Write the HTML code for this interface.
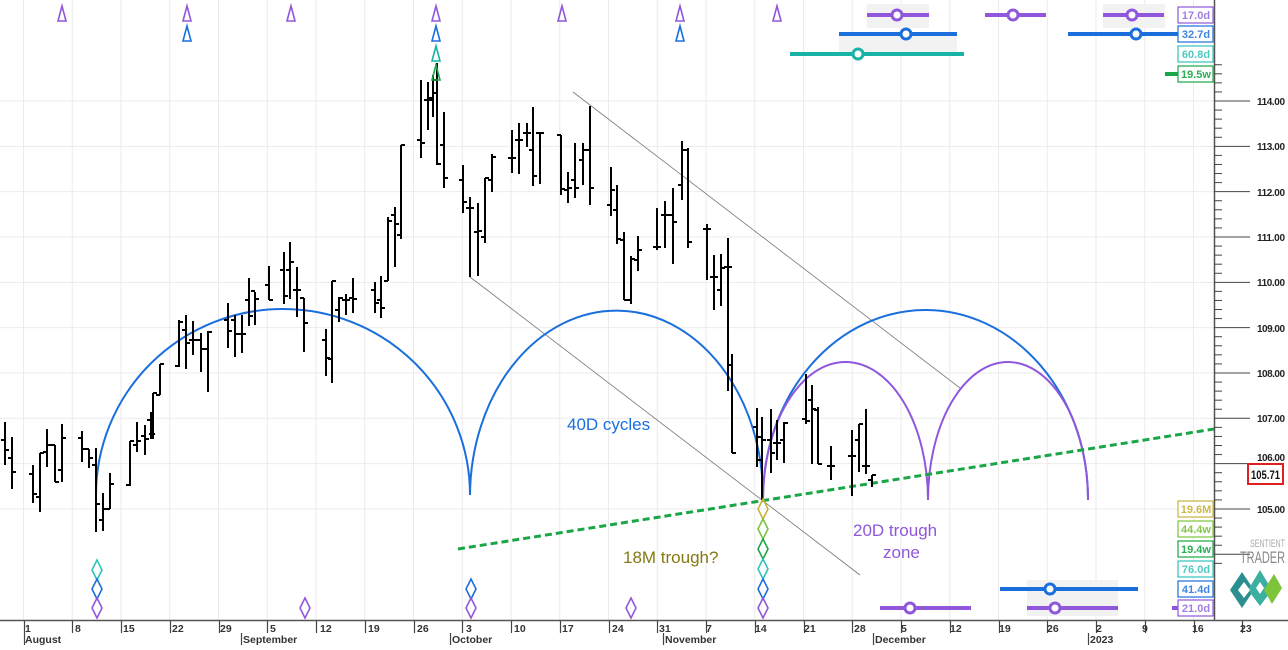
<!DOCTYPE html>
<html><head><meta charset="utf-8"><style>
html,body{margin:0;padding:0;background:#fff;}
svg{display:block;font-family:"Liberation Sans",Arial,sans-serif;}
</style></head><body>
<svg id="c" width="1288" height="650" viewBox="0 0 1288 650" xmlns="http://www.w3.org/2000/svg">
<rect width="1288" height="650" fill="#fff"/>
<g id="grid" stroke="#ebebeb" stroke-width="1"></g>
<rect x="867" y="4" width="62" height="24" fill="#f2f2f2"/>
<rect x="1103" y="4" width="62" height="24" fill="#f2f2f2"/>
<rect x="839" y="34" width="118" height="20" fill="#f2f2f2"/>
<rect x="1027" y="580" width="91" height="36" fill="#f2f2f2"/>
<line x1="573" y1="92" x2="960" y2="388" stroke="#777" stroke-width="0.8"/>
<line x1="470" y1="277" x2="860" y2="575" stroke="#777" stroke-width="0.8"/>
<g fill="none" stroke="#1a6fdc" stroke-width="2">
<path d="M96,495 A187,186 0 0 1 470,495"/>
<path d="M470,495 A146.5,186 0 0 1 763,498"/>
<path d="M763,498 A162.5,189 0 0 1 1088,500"/>
</g>
<g fill="none" stroke="#9057dc" stroke-width="2">
<path d="M763,500 A82.5,138 0 0 1 928,500"/>
<path d="M928,500 A80,138 0 0 1 1088,500"/>
</g>
<line x1="458" y1="549" x2="1214" y2="429" stroke="#19a647" stroke-width="3" stroke-dasharray="7,4"/>
<g id="bars" stroke="#000" stroke-width="2"></g>
<text x="567" y="430" font-size="17" fill="#1a6fdc">40D cycles</text>
<text x="623" y="563" font-size="17" fill="#857a12">18M trough?</text>
<text x="853" y="536" font-size="17" fill="#9057dc">20D trough</text>
<text x="883" y="558" font-size="17" fill="#9057dc">zone</text>
<g fill="none" stroke-width="1.6">
<g stroke="#9057dc">
<path d="M62,6 L58,21 L66,21Z"/><path d="M187,6 L183,21 L191,21Z"/><path d="M291,6 L287,21 L295,21Z"/><path d="M436,6 L432,21 L440,21Z"/><path d="M562,6 L558,21 L566,21Z"/><path d="M680,6 L676,21 L684,21Z"/><path d="M777,6 L773,21 L781,21Z"/>
</g>
<g stroke="#1a6fdc"><path d="M187,26 L183,41 L191,41Z"/><path d="M436,26 L432,41 L440,41Z"/><path d="M680,26 L676,41 L684,41Z"/></g>
<path stroke="#19b3a6" d="M436,46 L432,61 L440,61Z"/>
<path stroke="#19a647" d="M436,65 L432,80 L440,80Z"/>
</g>
<g fill="none" stroke-width="1.6" id="dia"></g>
<g stroke-width="4" stroke-linecap="butt">
<line x1="867" y1="15" x2="929" y2="15" stroke="#9057dc"/>
<line x1="985" y1="15" x2="1046" y2="15" stroke="#9057dc"/>
<line x1="1103" y1="15" x2="1164" y2="15" stroke="#9057dc"/>
<line x1="839" y1="34" x2="957" y2="34" stroke="#1a6fdc"/>
<line x1="1068" y1="34" x2="1180" y2="34" stroke="#1a6fdc"/>
<line x1="790" y1="54" x2="964" y2="54" stroke="#19b3a6"/>
<line x1="1165" y1="74" x2="1178" y2="74" stroke="#19a647"/>
<line x1="1000" y1="589" x2="1138" y2="589" stroke="#1a6fdc"/>
<line x1="880" y1="608" x2="971" y2="608" stroke="#9057dc"/>
<line x1="1027" y1="608" x2="1118" y2="608" stroke="#9057dc"/>
<line x1="1172" y1="608" x2="1180" y2="608" stroke="#9057dc"/>
</g>
<g fill="#fff" stroke-width="3">
<circle cx="897" cy="15" r="5" stroke="#9057dc"/><circle cx="1013" cy="15" r="5" stroke="#9057dc"/><circle cx="1132" cy="15" r="5" stroke="#9057dc"/>
<circle cx="906" cy="34" r="5" stroke="#1a6fdc"/><circle cx="1136" cy="34" r="5" stroke="#1a6fdc"/>
<circle cx="858" cy="54" r="5" stroke="#19b3a6"/>
<circle cx="1050" cy="589" r="5" stroke="#1a6fdc"/>
<circle cx="910" cy="608" r="5" stroke="#9057dc"/><circle cx="1055" cy="608" r="5" stroke="#9057dc"/>
</g>
<g font-size="11" font-weight="bold" fill="#fff">
<g stroke-width="1.2">
<rect x="1178" y="7" width="35" height="16" stroke="#9057dc"/>
<rect x="1178" y="26" width="35" height="16" stroke="#1a6fdc"/>
<rect x="1178" y="46" width="35" height="16" stroke="#2fc3b8"/>
<rect x="1178" y="66" width="35" height="16" stroke="#19a647"/>
<rect x="1178" y="501" width="35" height="16" stroke="#c9b23a"/>
<rect x="1178" y="521" width="35" height="16" stroke="#7cc43a"/>
<rect x="1178" y="541" width="35" height="16" stroke="#19a647"/>
<rect x="1178" y="561" width="35" height="16" stroke="#2fc3b8"/>
<rect x="1178" y="581" width="35" height="16" stroke="#1a6fdc"/>
<rect x="1178" y="600" width="35" height="16" stroke="#9057dc"/>
</g>
<g text-anchor="middle">
<text x="1196" y="19" fill="#a07fe0">17.0d</text>
<text x="1196" y="38" fill="#3f86e0">32.7d</text>
<text x="1196" y="58" fill="#4fcac0">60.8d</text>
<text x="1196" y="78" fill="#2cae55">19.5w</text>
<text x="1196" y="513" fill="#cdb84a">19.6M</text>
<text x="1196" y="533" fill="#86c64a">44.4w</text>
<text x="1196" y="553" fill="#2cae55">19.4w</text>
<text x="1196" y="573" fill="#4fcac0">76.0d</text>
<text x="1196" y="593" fill="#3f86e0">41.4d</text>
<text x="1196" y="612" fill="#a07fe0">21.0d</text>
</g>
</g>
<line x1="1214.5" y1="0" x2="1214.5" y2="620" stroke="#555" stroke-width="1.5"/>
<line x1="0" y1="620.5" x2="1288" y2="620.5" stroke="#555" stroke-width="1.5"/>
<g id="yax" stroke="#444" stroke-width="1"></g>
<g id="xax" stroke="#444" stroke-width="1.2"></g>
<rect x="1248" y="464" width="35" height="20" fill="#fff" stroke="#e02020" stroke-width="2"/>
<text x="1251" y="479" font-size="12" font-weight="bold" fill="#111" textLength="29" lengthAdjust="spacingAndGlyphs">105.71</text>
<text x="1250" y="547" font-size="11" fill="#aaa" textLength="35" lengthAdjust="spacingAndGlyphs">SENTIENT</text>
<text x="1240" y="563" font-size="17" fill="#888" textLength="45" lengthAdjust="spacingAndGlyphs">TRADER</text>
<g>
<polygon points="1230,590 1242,572 1254,590 1242,608" fill="#2b8f8f"/>
<polygon points="1248,590 1260,570 1272,590 1260,606" fill="#3bb0a0"/>
<polygon points="1264,590 1274,574 1282,588 1272,604" fill="#7cc43a"/>
<polygon points="1238,590 1244,582 1250,590 1244,598" fill="#fff"/>
<polygon points="1256,588 1260,582 1264,588 1260,594" fill="#fff"/>
</g>
<g font-size="10" font-weight="bold" fill="#222" lengthAdjust="spacingAndGlyphs">
<text x="1257" y="105" textLength="28">114.00</text><text x="1257" y="150" textLength="28">113.00</text><text x="1257" y="196" textLength="28">112.00</text><text x="1257" y="241" textLength="28">111.00</text><text x="1257" y="286" textLength="28">110.00</text><text x="1257" y="332" textLength="28">109.00</text><text x="1257" y="377" textLength="28">108.00</text><text x="1257" y="422" textLength="28">107.00</text><text x="1257" y="461" textLength="28">106.00</text><text x="1257" y="513" textLength="28">105.00</text>
</g>
<g font-size="10.5" font-weight="bold" fill="#333">
<text x="25" y="632">1</text><text x="75" y="632">8</text><text x="123" y="632">15</text><text x="172" y="632">22</text><text x="220" y="632">29</text><text x="270" y="632">5</text><text x="320" y="632">12</text><text x="368" y="632">19</text><text x="417" y="632">26</text><text x="466" y="632">3</text><text x="514" y="632">10</text><text x="562" y="632">17</text><text x="612" y="632">24</text><text x="659" y="632">31</text><text x="706" y="632">7</text><text x="755" y="632">14</text><text x="804" y="632">21</text><text x="854" y="632">28</text><text x="901" y="632">5</text><text x="950" y="632">12</text><text x="999" y="632">19</text><text x="1047" y="632">26</text><text x="1096" y="632">2</text><text x="1142" y="632">9</text><text x="1192" y="632">16</text><text x="1240" y="632">23</text>
<text x="25" y="643">August</text><text x="243" y="643">September</text><text x="452" y="643">October</text><text x="665" y="643">November</text><text x="875" y="643">December</text><text x="1090" y="643">2023</text>
</g>
<script>
(function(){
var NS="http://www.w3.org/2000/svg";
function el(p,n,a){var e=document.createElementNS(NS,n);for(var k in a)e.setAttribute(k,a[k]);p.appendChild(e);return e;}
var g=document.getElementById('grid');
for(var k=0;k<25;k++){var x=23.5+48.75*k;el(g,'line',{x1:x,y1:0,x2:x,y2:620});}
for(var p=105;p<=114;p++){var y=101+45.33*(114-p);el(g,'line',{x1:0,y1:y,x2:1214,y2:y});}
var ya=document.getElementById('yax');
for(var i=0;i<=55;i++){var v=114.8-i*0.2;var y=101+45.33*(114-v);if(y>618)break;var maj=Math.abs(v-Math.round(v))<0.01;el(ya,'line',{x1:1214,y1:y,x2:maj?1250:1222,y2:y});}
var xa=document.getElementById('xax');
for(var k=0;k<26;k++){var x=Math.round(23.5+48.75*k)+0.5;el(xa,'line',{x1:x,y1:621,x2:x,y2:633});}
[24,241,450,663,873,1088].forEach(function(x){el(xa,'line',{x1:x+0.5,y1:633,x2:x+0.5,y2:645});});
var B=[[5,422,465,440,450],[12,437,489,458,472],[33,465,503,474,494],[40,453,512,497,453],[47,429,467,452,445],[55,445,482,445,482],[62,424,482,470,438],[82,431,462,438,449],[89,449,468,449,458],[96,448,532,465,504],[103,493,531,520,509],[110,473,509,509,484],[130,441,486,485,441],[137,422,452,445,441],[145,425,455,436,439],[151,412,439,420,434],[153,393,439,434,393],[160,364,395,395,364],[179,320,367,366,322],[186,315,369,330,343],[193,321,355,340,340],[201,333,372,340,349],[208,331,392,349,332],[228,303,348,320,331],[235,315,357,320,334],[242,315,353,334,334],[249,278,326,300,316],[255,292,325,291,299],[269,266,300,285,300],[284,252,304,270,296],[290,242,299,270,262],[297,267,317,290,290],[304,298,352,298,323],[326,329,376,340,358],[332,281,383,359,281],[339,297,322,310,298],[346,294,315,300,300],[353,278,313,298,299],[375,282,313,290,303],[381,276,318,300,308],[388,217,281,281,221],[395,207,267,215,224],[401,145,239,235,145],[421,80,158,140,143],[428,82,130,100,98],[433,75,117,100,93],[437,63,165,80,164],[444,112,188,145,178],[463,165,213,180,202],[470,197,277,208,208],[478,203,276,232,231],[485,178,243,237,178],[492,154,192,180,157],[512,130,173,158,158],[519,123,174,140,140],[527,123,147,133,133],[533,107,186,150,176],[540,133,184,133,133],[561,135,195,135,189],[568,172,203,190,188],[575,143,198,180,188],[583,143,185,160,150],[590,106,205,150,188],[611,167,216,205,190],[617,185,244,210,239],[624,232,300,240,300],[631,256,304,300,259],[638,236,271,260,250],[657,208,250,247,247],[665,201,248,215,215],[673,188,264,215,222],[682,141,200,185,150],[688,148,248,150,242],[707,224,280,229,229],[714,255,310,277,277],[721,254,306,290,268],[728,238,391,267,267],[732,354,453,365,453],[757,408,467,427,437],[762,417,500,460,440],[771,409,473,440,453],[777,420,460,443,443],[784,422,463,440,423],[806,374,424,419,421],[812,385,464,400,409],[818,407,464,410,464],[831,446,480,466,466],[852,430,496,456,456],[859,424,472,440,424],[866,409,474,466,466],[872,475,487,480,475]];
var bg=document.getElementById('bars');
B.forEach(function(b){el(bg,'line',{x1:b[0],y1:b[1],x2:b[0],y2:b[2]});el(bg,'line',{x1:b[0]-4,y1:b[3],x2:b[0],y2:b[3]});el(bg,'line',{x1:b[0],y1:b[4],x2:b[0]+4,y2:b[4]});});
var dg=document.getElementById('dia');
function dia(x,y,c){el(dg,'path',{d:'M'+x+','+(y-10)+' L'+(x+5)+','+y+' L'+x+','+(y+10)+' L'+(x-5)+','+y+'Z',stroke:c});}
dia(97,570,'#2fc3b8');dia(97,589,'#1a6fdc');dia(97,608,'#9057dc');
dia(305,608,'#9057dc');dia(471,589,'#1a6fdc');dia(471,608,'#9057dc');dia(631,608,'#9057dc');
dia(763,509,'#c9b23a');dia(763,529,'#7cc43a');dia(763,549,'#19a647');dia(763,569,'#2fc3b8');dia(763,589,'#1a6fdc');dia(763,608,'#9057dc');
})();
</script>
</svg>
</body></html>
